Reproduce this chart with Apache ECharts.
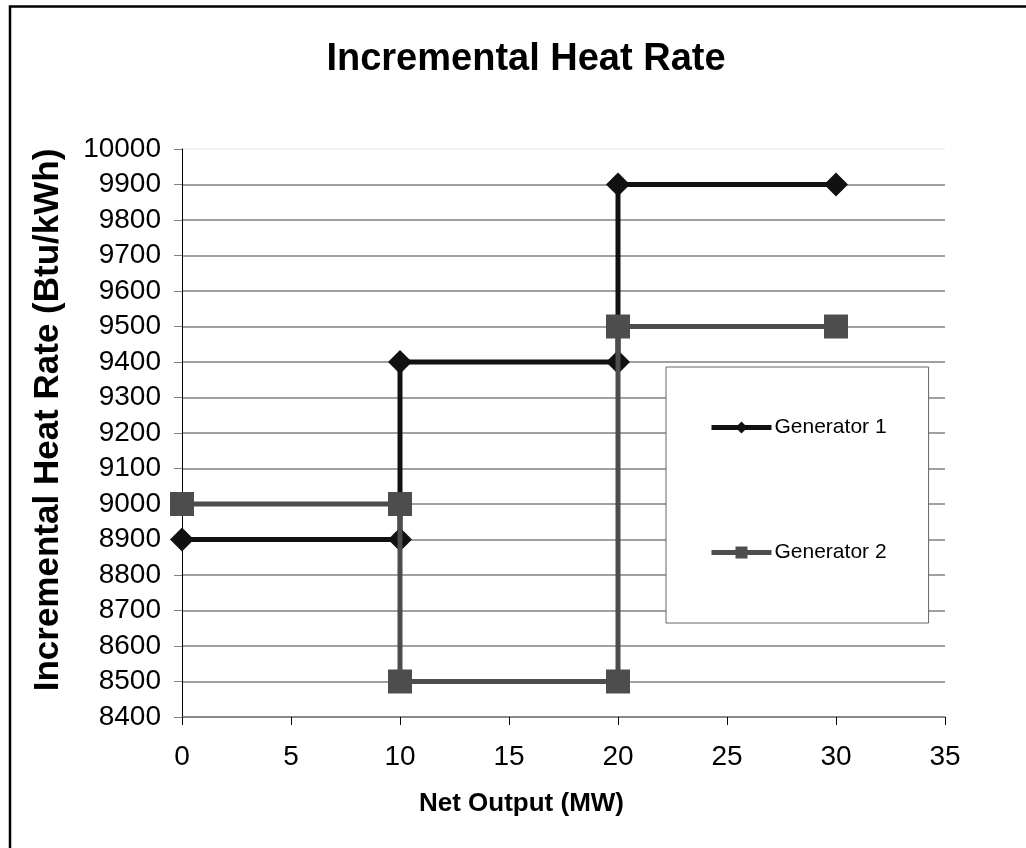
<!DOCTYPE html>
<html>
<head>
<meta charset="utf-8">
<script src="https://cdn.jsdelivr.net/npm/echarts@6/dist/echarts.min.js"></script>
<style>
html,body{margin:0;padding:0;background:#fff;}
#chart{width:1026px;height:848px;}
</style>
</head>
<body>
<div id="chart"></div>
<script>
const titleText = 'Incremental Heat Rate';
const xAxisName = 'Net Output (MW)';
const yAxisName = 'Incremental Heat Rate (Btu/kWh)';
const seriesNames = ['Generator 1', 'Generator 2'];
const gen1X = [0, 10, 10, 20, 20, 30];
const gen1Y = [8900, 8900, 9400, 9400, 9900, 9900];
const gen2X = [0, 10, 10, 20, 20, 30];
const gen2Y = [9000, 9000, 8500, 8500, 9500, 9500];
const xMin = 0, xMax = 35, xStep = 5;
const yMin = 8400, yMax = 10000, yStep = 100;

const pairs = (xs, ys) => xs.map((x, i) => [x, ys[i]]);
const FONT = '"Liberation Sans", Arial, sans-serif';

const nLines = (yMax - yMin) / yStep + 1;
const splitColors = [];
for (let i = 0; i < nLines; i++) splitColors.push(i === nLines - 1 ? '#ececec' : '#808080');

const chart = echarts.init(document.getElementById('chart'), null, {renderer: 'canvas'});
chart.setOption({
  backgroundColor: '#ffffff',
  animation: false,
  title: {
    text: titleText,
    left: 521,
    top: 36,
    textAlign: 'center',
    textStyle: {fontFamily: FONT, fontSize: 38, fontWeight: 'bold', color: '#000'}
  },
  graphic: [{
    type: 'rect',
    shape: {x: 10, y: 6.5, width: 1200, height: 1000},
    style: {fill: 'none', stroke: '#000', lineWidth: 2.5},
    silent: true, z: 100
  }],
  grid: {left: 182, top: 149, right: 81, bottom: 131, containLabel: false},
  legend: {
    orient: 'vertical',
    left: 666,
    top: 367,
    padding: [50, 42, 60, 43],
    itemGap: 104,
    itemWidth: 60,
    itemHeight: 15,
    backgroundColor: '#fff',
    borderColor: '#666',
    borderWidth: 1,
    borderRadius: 0,
    textStyle: {fontFamily: FONT, fontSize: 21, color: '#000', padding: [0, 0, 0, -2]},
    lineStyle: {width: 5},
    data: seriesNames
  },
  xAxis: {
    type: 'value',
    min: xMin, max: xMax, interval: xStep,
    name: xAxisName,
    nameLocation: 'middle',
    nameGap: 74,
    nameTextStyle: {fontFamily: FONT, fontSize: 26, fontWeight: 'bold', color: '#000', padding: [0, 84, 0, 0]},
    axisLine: {show: true, onZero: false, lineStyle: {color: '#808080', width: 1.5}},
    axisTick: {show: true, inside: false, length: 8, lineStyle: {color: '#000', width: 1}},
    axisLabel: {fontFamily: FONT, fontSize: 28, color: '#000', margin: 26},
    splitLine: {show: false}
  },
  yAxis: {
    type: 'value',
    min: yMin, max: yMax, interval: yStep,
    name: yAxisName,
    nameLocation: 'middle',
    nameGap: 116,
    nameRotate: 90,
    nameTextStyle: {fontFamily: FONT, fontSize: 35, fontWeight: 'bold', color: '#000', padding: [0, 0, 0, 26]},
    axisLine: {show: true, lineStyle: {color: '#000', width: 1}},
    axisTick: {show: true, inside: false, length: 8, lineStyle: {color: '#808080', width: 1}},
    axisLabel: {fontFamily: FONT, fontSize: 28, color: '#000', margin: 21, formatter: v => String(v)},
    splitLine: {show: true, lineStyle: {color: splitColors, width: 1.5}}
  },
  series: [
    {
      name: seriesNames[0],
      type: 'line',
      data: pairs(gen1X, gen1Y),
      symbol: 'diamond',
      symbolSize: 24,
      showAllSymbol: true,
      lineStyle: {color: '#111', width: 5},
      itemStyle: {color: '#111', borderWidth: 0},
      z: 3
    },
    {
      name: seriesNames[1],
      type: 'line',
      data: pairs(gen2X, gen2Y),
      symbol: 'rect',
      symbolSize: 24,
      showAllSymbol: true,
      lineStyle: {color: '#4d4d4d', width: 5},
      itemStyle: {color: '#4d4d4d', borderWidth: 0},
      z: 4
    }
  ]
});
</script>
</body>
</html>
